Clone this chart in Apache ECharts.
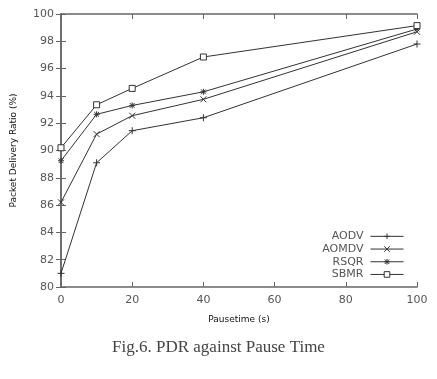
<!DOCTYPE html>
<html><head><meta charset="utf-8">
<script src="https://cdn.jsdelivr.net/npm/echarts@6/dist/echarts.min.js"></script>
<style>html,body{margin:0;padding:0;background:#fff;}#c{width:437px;height:379px;}</style>
</head><body><div id="c"></div>
<script>
var pausetimes = [0, 10, 20, 40, 100];
var aodv  = [81.0, 89.1, 91.45, 92.4, 97.8];
var aomdv = [86.2, 91.2, 92.55, 93.75, 98.7];
var rsqr  = [89.25, 92.65, 93.3, 94.3, 98.9];
var sbmr  = [90.2, 93.35, 94.55, 96.85, 99.15];
var seriesNames = ['AODV', 'AOMDV', 'RSQR', 'SBMR'];
var xTicks = [0, 20, 40, 60, 80, 100];
var yTicks = [80, 82, 84, 86, 88, 90, 92, 94, 96, 98, 100];

var plus = 'path://M0,5L10,5M5,0L5,10';
var cross = 'path://M0,0L10,10M10,0L0,10';
var star = 'path://M0,5L10,5M5,0L5,10M1,1L9,9M9,1L1,9';
var dataSets = [aodv, aomdv, rsqr, sbmr];
var symbols = [plus, cross, star, 'rect'];
var sizes = [7, 6, 6, 6];

function pairs(vals){ return pausetimes.map(function(x,i){ return [x, vals[i]]; }); }

var series = dataSets.map(function(d, i){
  return {
    name: seriesNames[i], type: 'line', data: pairs(d),
    symbol: symbols[i], symbolSize: sizes[i], showSymbol: true,
    lineStyle: {color: '#333', width: 1},
    itemStyle: {color: i === 3 ? '#fff' : 'transparent', borderColor: '#333', borderWidth: 1},
    emphasis: {disabled: true}, animation: false
  };
});

var axisCommon = {
  axisLine: {show: true, lineStyle: {color: '#666', width: 1.5}},
  axisTick: {show: true, inside: true, length: 5, lineStyle: {color: '#666'}},
  splitLine: {show: false}
};

var chart = echarts.init(document.getElementById('c'), null, {renderer: 'canvas'});
chart.setOption({
  animation: false,
  backgroundColor: '#fff',
  grid: {left: 61, top: 14, right: 20, bottom: 92, containLabel: false},
  xAxis: [
    Object.assign({type: 'value', min: xTicks[0], max: xTicks[xTicks.length-1], interval: 20, position: 'bottom',
      name: 'Pausetime (s)', nameLocation: 'middle', nameGap: 28,
      nameTextStyle: {fontFamily: 'DejaVu Sans', fontSize: 9, color: '#111'},
      axisLabel: {fontFamily: 'DejaVu Sans', fontSize: 11, color: '#555', margin: 8}}, axisCommon),
    Object.assign({type: 'value', min: 0, max: 100, interval: 20, position: 'top',
      axisLabel: {show: false}}, axisCommon)
  ],
  yAxis: [
    Object.assign({type: 'value', min: yTicks[0], max: yTicks[yTicks.length-1], interval: 2, position: 'left',
      name: 'Packet Delivery Ratio (%)', nameLocation: 'middle', nameGap: 43, nameRotate: 90,
      nameTextStyle: {fontFamily: 'DejaVu Sans', fontSize: 9, color: '#111'},
      axisLabel: {fontFamily: 'DejaVu Sans', fontSize: 11, color: '#555', margin: 7}}, axisCommon),
    Object.assign({type: 'value', min: 80, max: 100, interval: 2, position: 'right',
      axisLabel: {show: false}}, axisCommon)
  ],
  legend: {
    orient: 'vertical', right: 33, top: 230, align: 'right', padding: 0,
    itemWidth: 33, itemHeight: 7, itemGap: 0,
    lineStyle: {width: 1, color: '#333'},
    itemStyle: {borderWidth: 1, borderColor: '#333'},
    textStyle: {fontFamily: 'DejaVu Sans', fontSize: 11, color: '#555', lineHeight: 12.7, height: 12.7, padding: [0, 2, 0, 0]},
    data: seriesNames
  },
  series: series,
  graphic: [{
    type: 'text', left: 'center', top: 339,
    style: {text: 'Fig.6. PDR against Pause Time', font: '17px "Liberation Serif"', fill: '#444'}
  }]
});
</script></body></html>
